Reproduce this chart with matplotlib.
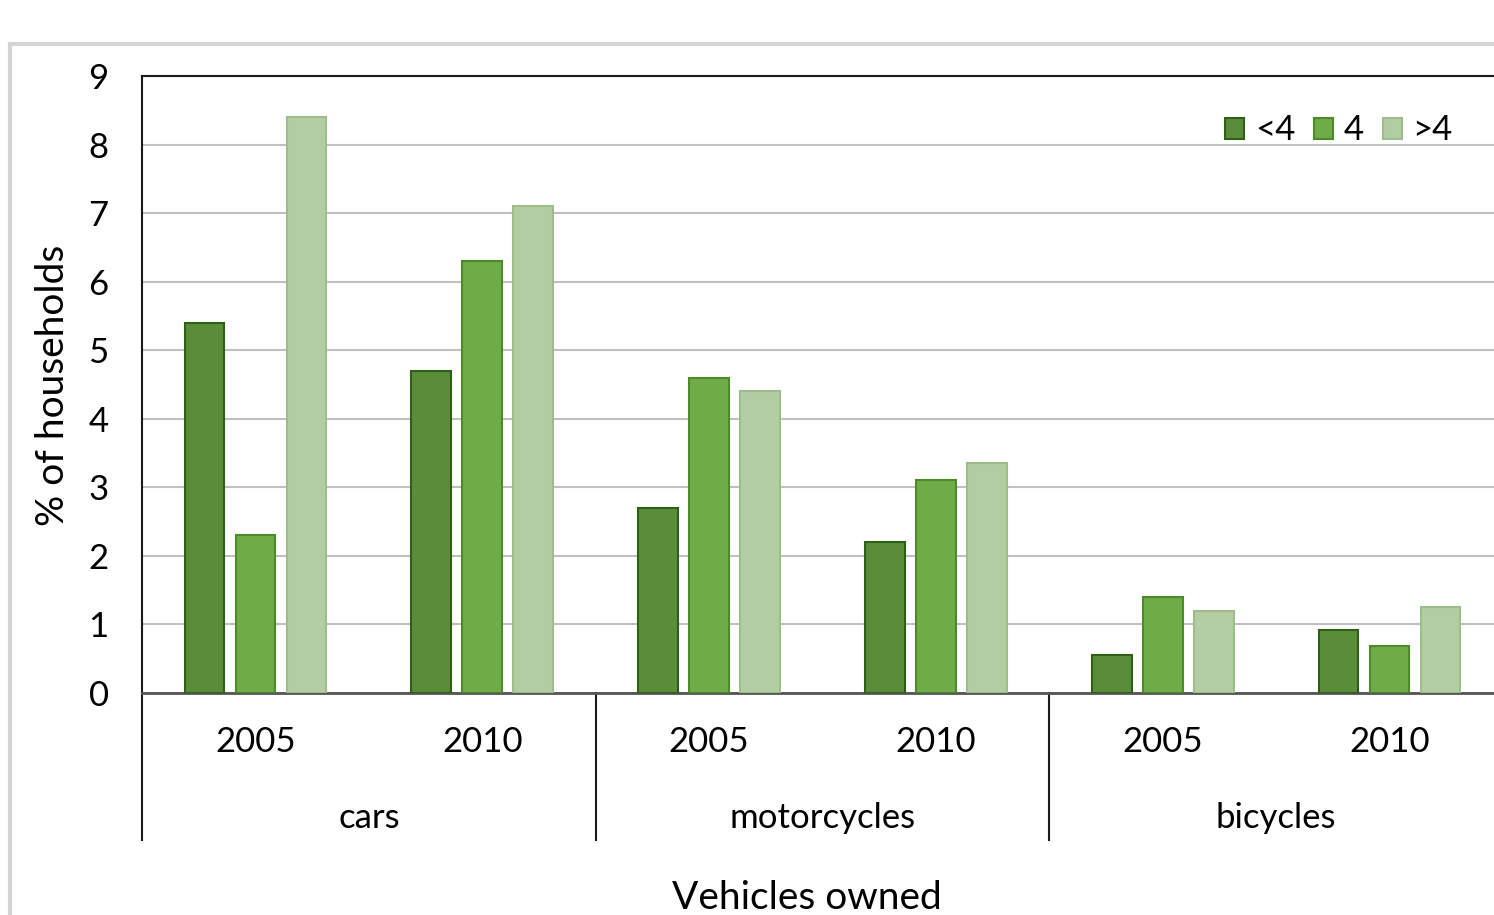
import matplotlib
matplotlib.use('Agg')
import matplotlib.pyplot as plt
from matplotlib.patches import Rectangle
import numpy as np

plt.rcParams['font.family'] = ['Lato', 'DejaVu Sans']

vehicles = ['cars', 'motorcycles', 'bicycles']
years = ['2005', '2010']
sizes = ['<4', '4', '>4']

# % of households, order: cars 2005, cars 2010, motorcycles 2005, ...
small = [5.4, 4.7, 2.7, 2.2, 0.55, 0.92]
four = [2.3, 6.3, 4.6, 3.1, 1.4, 0.68]
large = [8.4, 7.1, 4.4, 3.35, 1.2, 1.25]

fills = ['#5b8c3a', '#6fab47', '#b3cda3']
edges = ['#2f5f17', '#4c8a2a', '#9ebd8c']

fig = plt.figure(figsize=(14.94, 9.15), dpi=100)

# outer chart frame (runs off the right and bottom edge)
fig.patches.append(Rectangle((10 / 1494, -0.1), 1.2, 1 - 44 / 915 + 0.1,
                             transform=fig.transFigure, fill=False,
                             edgecolor='#d4d4d4', linewidth=3))

ax = fig.add_axes([142 / 1494, 222 / 915, 1361 / 1494, 617 / 915])

x = np.arange(len(small)) + 0.5
step = 0.225
width = 0.175
for i, vals in enumerate([small, four, large]):
    ax.bar(x + (i - 1) * step, vals, width, color=fills[i], edgecolor=edges[i],
           linewidth=1.5, label=sizes[i], zorder=3)

ax.set_xlim(0, 6)
ax.set_ylim(0, 9)
ax.set_yticks(range(10))
ax.tick_params(axis='y', length=0, labelsize=25, pad=24)
ax.tick_params(axis='x', length=0, labelsize=25, pad=24)
ax.set_xticks(x)
ax.set_xticklabels(years * 3)
ax.grid(axis='y', color='#c0c0c0', linewidth=1.5, zorder=0)

for s in ['top', 'left']:
    ax.spines[s].set_color('#1a1a1a')
    ax.spines[s].set_linewidth(1.5)
ax.spines['right'].set_visible(False)
ax.spines['bottom'].set_color('#555555')
ax.spines['bottom'].set_linewidth(2)

# group dividers and category labels below the axis
for k in range(len(vehicles)):
    ax.plot([2 * k, 2 * k], [0, -0.238], transform=ax.get_xaxis_transform(),
            color='#1a1a1a', linewidth=1.5, clip_on=False)
    ax.text(2 * k + 1, -0.203, vehicles[k], transform=ax.get_xaxis_transform(),
            ha='center', va='center', fontsize=25)

fig.text(53 / 1494, 1 - 385 / 915, '% of households', rotation=90,
         ha='center', va='center', fontsize=28)
fig.text(807 / 1494, 1 - 898 / 915, 'Vehicles owned', ha='center', va='center',
         fontsize=28)

ax.legend(loc='upper right', bbox_to_anchor=(1470 / 1494, 1 - 97 / 915),
          bbox_transform=fig.transFigure, frameon=False, fontsize=25,
          ncol=3, handlelength=0.55, handleheight=0.55, handletextpad=0.3,
          columnspacing=0.55, borderpad=0)

fig.savefig('out.png', dpi=100)
